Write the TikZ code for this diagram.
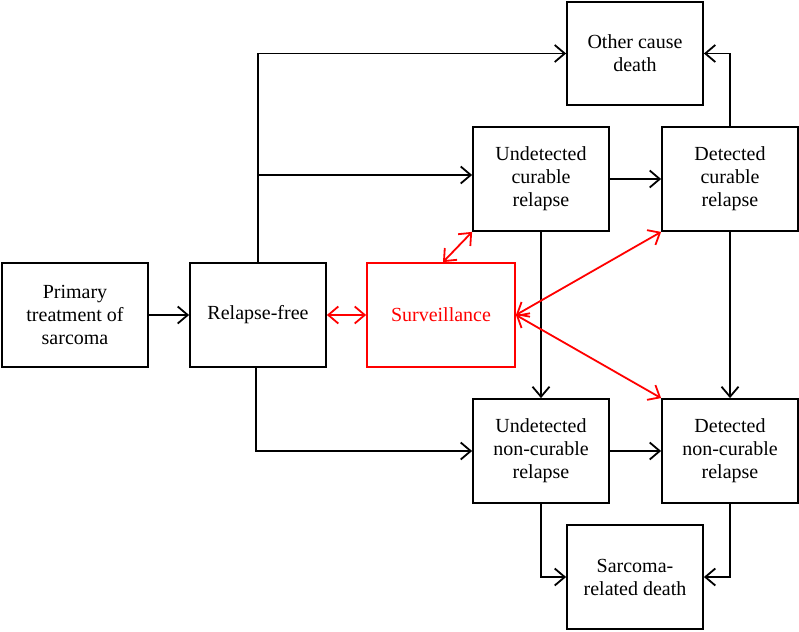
\documentclass[tikz,border=0pt]{standalone}
\usepackage{fontspec}
\setmainfont{Liberation Serif}
\usetikzlibrary{arrows.meta}
\begin{document}
\begin{tikzpicture}[x=1pt,y=-1pt,
  box/.style={draw=black,line width=1.8pt,minimum width=136pt,minimum height=104pt,inner sep=2pt,align=center,font=\fontsize{20}{23}\selectfont},
  redbox/.style={box,draw=red,text=red,minimum width=148pt},
  tip/.style={Straight Barb[length=10pt,width=17pt,line width=1.8pt]},
  arr/.style={line width=1.8pt,-{Straight Barb[length=10pt,width=17pt,line width=1.8pt]}},
  rarr/.style={line width=1.8pt,draw=red,{Straight Barb[length=10pt,width=17pt,line width=1.8pt]}-{Straight Barb[length=10pt,width=17pt,line width=1.8pt]}}]
\useasboundingbox (0,0) rectangle (799,631);
\node[box,minimum width=146pt] (prim) at (75,315) {Primary\\treatment of\\sarcoma};
\node[box] (rf) at (258,315) {Relapse-free};
\node[redbox] (surv) at (441,315) {Surveillance};
\node[box,minimum height=103pt] (ocd) at (635,53.5) {Other cause\\death};
\node[box] (ucr) at (541,179) {Undetected\\curable\\relapse};
\node[box] (dcr) at (730,179) {Detected\\curable\\relapse};
\node[box] (uncr) at (541,451) {Undetected\\non-curable\\relapse};
\node[box] (dncr) at (730,451) {Detected\\non-curable\\relapse};
\node[box] (srd) at (635,577) {Sarcoma-\\related death};
\coordinate (ucrin) at ([yshift=4pt]ucr.west);
\draw[arr] (prim) -- (rf);
\draw[arr] (rf.north) |- (ocd.west);
\draw[arr] (rf.north |- ucrin) -- (ucrin);
\draw[arr] ([xshift=-2pt]rf.south) |- (uncr.west);
\draw[arr] (ucr) -- (dcr);
\draw[arr] (uncr) -- (dncr);
\draw[arr] (ucr) -- (uncr);
\draw[arr] (dcr) -- (dncr);
\draw[arr] (dcr.north) |- (ocd.east);
\draw[arr] (uncr.south) |- (srd.west);
\draw[arr] (dncr.south) |- (srd.east);
\draw[rarr] (rf) -- (surv);
\draw[rarr] ([xshift=2pt]surv.north) -- (ucr.south west);
\draw[rarr] (surv.east) -- (dcr.south west);
\draw[rarr] (surv.east) -- (dncr.north west);
\end{tikzpicture}
\end{document}
